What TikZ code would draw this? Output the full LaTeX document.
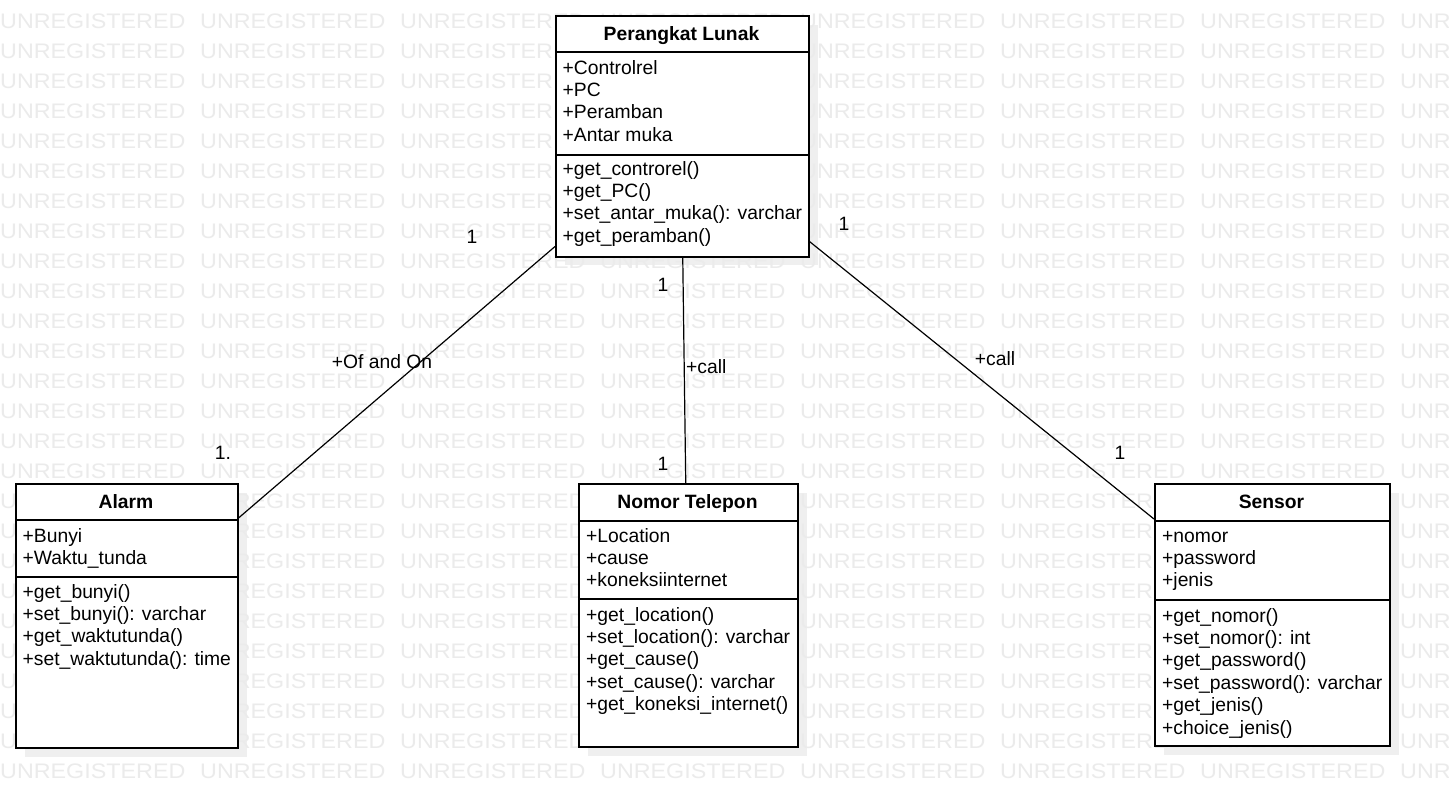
\documentclass[tikz,border=0pt]{standalone}
\usepackage{fontspec}
\setmainfont{Liberation Sans}
\newfontfamily\wmfont[FakeStretch=1.11]{Liberation Sans}
\usetikzlibrary{calc}
\definecolor{wmc}{HTML}{EBEBEB}
\definecolor{shc}{HTML}{EFEFEF}
\tikzset{
  box/.style={draw=black, line width=1.5pt, fill=white, rectangle, anchor=north west, inner sep=0pt},
  sep/.style={draw=black, line width=1.4pt},
  txt/.style={anchor=base west, inner sep=0pt, font=\fontsize{19.3}{22}\selectfont},
  ttl/.style={anchor=base, inner sep=0pt, font=\fontsize{19.3}{22}\selectfont\bfseries},
  lbl/.style={anchor=base, inner sep=0pt, font=\fontsize{19.3}{22}\selectfont},
  conn/.style={draw=black, line width=1.2pt},
  wm/.style={anchor=base west, inner sep=0pt, text=wmc, font=\fontsize{21}{24}\wmfont}
}
\begin{document}
\begin{tikzpicture}[x=1pt,y=-1pt]
\useasboundingbox (0,0) rectangle (1449,807);
\fill[white] (0,0) rectangle (1449,807);
% shadows
\fill[shc] (565,25) rectangle (818,265);
\fill[shc] (25,493) rectangle (247,757);
\fill[shc] (588,493) rectangle (807,756);
\fill[shc] (1164,493) rectangle (1399,755);
% watermark
\begin{scope}
\clip (0,0) rectangle (1449,807);
\foreach \r in {0,...,25}{
  \foreach \c in {0,...,7}{
    \node[wm] (wm-\r-\c) at (\c*200, 28+\r*30) {UNREGISTERED};
  }
}
\end{scope}
% boxes
\node[box, minimum width=253pt, minimum height=241pt] (pl) at (555,15) {};
\node[box, minimum width=222pt, minimum height=264pt] (al) at (15,483) {};
\node[box, minimum width=219pt, minimum height=263pt] (nt) at (578,483) {};
\node[box, minimum width=235pt, minimum height=262pt] (se) at (1154,483) {};
% separators
\draw[sep] (555,52) -- (808,52);
\draw[sep] (555,155) -- (808,155);
\draw[sep] (15,520) -- (237,520);
\draw[sep] (15,577) -- (237,577);
\draw[sep] (578,521) -- (797,521);
\draw[sep] (578,599) -- (797,599);
\draw[sep] (1154,521) -- (1389,521);
\draw[sep] (1154,600) -- (1389,600);
% titles
\node[ttl] (pl-t) at (681.5,40) {Perangkat Lunak};
\node[ttl] (al-t) at (126,508) {Alarm};
\node[ttl] (nt-t) at (687.5,508) {Nomor Telepon};
\node[ttl] (se-t) at (1271.5,508) {Sensor};
% Perangkat Lunak
\foreach \t [count=\i from 0] in {+Controlrel,+PC,+Peramban,+Antar muka}
  \node[txt] (pl-a\i) at (562.5, 74+\i*22.4) {\t};
\foreach \t [count=\i from 0] in {+get\_controrel(),+get\_PC(),+set\_antar\_muka(): varchar,+get\_peramban()}
  \node[txt] (pl-m\i) at (562.5, 175+\i*22.4) {\t};
% Alarm
\foreach \t [count=\i from 0] in {+Bunyi,+Waktu\_tunda}
  \node[txt] (al-a\i) at (22.5, 542+\i*22.4) {\t};
\foreach \t [count=\i from 0] in {+get\_bunyi(),+set\_bunyi(): varchar,+get\_waktutunda(),+set\_waktutunda(): time}
  \node[txt] (al-m\i) at (22.5, 598+\i*22.4) {\t};
% Nomor Telepon
\foreach \t [count=\i from 0] in {+Location,+cause,+koneksiinternet}
  \node[txt] (nt-a\i) at (586, 542+\i*22.4) {\t};
\foreach \t [count=\i from 0] in {+get\_location(),+set\_location(): varchar,+get\_cause(),+set\_cause(): varchar,+get\_koneksi\_internet()}
  \node[txt] (nt-m\i) at (586, 621+\i*22.4) {\t};
% Sensor
\foreach \t [count=\i from 0] in {+nomor,+password,+jenis}
  \node[txt] (se-a\i) at (1162, 542+\i*22.4) {\t};
\foreach \t [count=\i from 0] in {+get\_nomor(),+set\_nomor(): int,+get\_password(),+set\_password(): varchar,+get\_jenis(),+choice\_jenis()}
  \node[txt] (se-m\i) at (1162, 622+\i*22.4) {\t};
% connectors
\draw[conn] ($(pl.south west)+(0,-11)$) -- ($(al.north east)+(0,35)$);
\draw[conn] ($(pl.south)+(0.5,0)$) -- ($(nt.north)+(-2.5,0)$);
\draw[conn] ($(pl.south east)+(0,-16)$) -- ($(se.north west)+(0,36)$);
% labels
\node[lbl] (l1a) at (472,243) {1};
\node[lbl] (l1b) at (382,368) {+Of and On};
\node[lbl] (l1c) at (223,459) {1.};
\node[lbl] (l2a) at (663,291) {1};
\node[lbl, anchor=base west] (l2b) at (686,373) {+call};
\node[lbl] (l2c) at (663,470) {1};
\node[lbl] (l3a) at (844,230) {1};
\node[lbl] (l3b) at (995,365) {+call};
\node[lbl] (l3c) at (1120,459) {1};
\end{tikzpicture}
\end{document}
